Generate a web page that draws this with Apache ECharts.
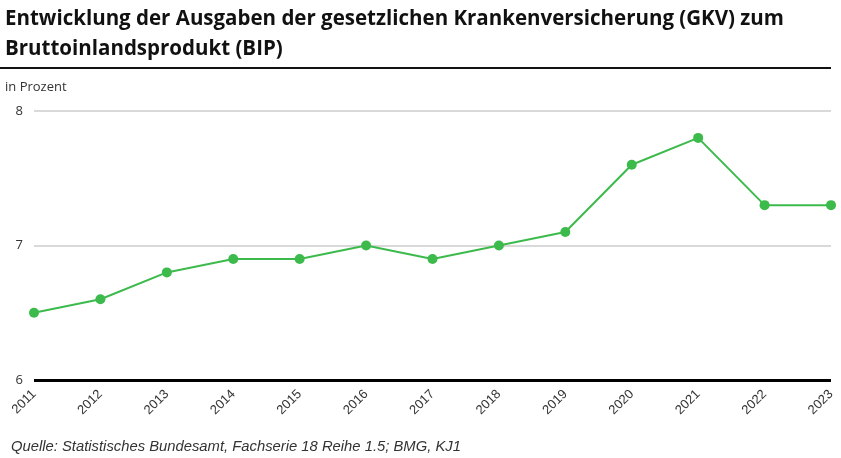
<!DOCTYPE html>
<html><head><meta charset="utf-8">
<script src="https://cdn.jsdelivr.net/npm/echarts@6/dist/echarts.min.js"></script>
<style>html,body{margin:0;padding:0;background:#fff}#c{width:841px;height:458px}</style>
</head><body><div id="c"></div>
<script>
const years = ['2011','2012','2013','2014','2015','2016','2017','2018','2019','2020','2021','2022','2023'];
const values = [6.5, 6.6, 6.8, 6.9, 6.9, 7.0, 6.9, 7.0, 7.1, 7.6, 7.8, 7.3, 7.3];
const titleText = 'Entwicklung der Ausgaben der gesetzlichen Krankenversicherung (GKV) zum\nBruttoinlandsprodukt (BIP)';
const unitText = 'in Prozent';
const sourceText = 'Quelle: Statistisches Bundesamt, Fachserie 18 Reihe 1.5; BMG, KJ1';

const chart = echarts.init(document.getElementById('c'));
chart.setOption({
  animation: false,
  title: [
    {text: titleText, left: 0, top: -1, textStyle: {fontFamily: 'Open Sans', fontWeight: 'bold', fontSize: 20.5, lineHeight: 30, color: '#111'}},
    {text: unitText, left: 0, top: 76, textStyle: {fontFamily: 'Open Sans', fontWeight: 'normal', fontSize: 13, color: '#333'}},
    {text: sourceText, left: 6, top: 434, textStyle: {fontFamily: 'Liberation Sans', fontStyle: 'italic', fontWeight: 'normal', fontSize: 14.8, color: '#333'}}
  ],
  graphic: [{type: 'line', shape: {x1: 0, y1: 68, x2: 831, y2: 68}, style: {stroke: '#111', lineWidth: 2}}],
  grid: {left: 34, right: 10, top: 111, bottom: 78},
  xAxis: {
    type: 'category', data: years, boundaryGap: false,
    axisLine: {show: false}, axisTick: {show: false},
    axisLabel: {rotate: 45, fontSize: 13, color: '#333', fontFamily: 'Liberation Sans', margin: 12}
  },
  yAxis: {
    type: 'value', min: 6, max: 8, interval: 1,
    axisLine: {show: false}, axisTick: {show: false},
    axisLabel: {fontSize: 13, color: '#333', fontFamily: 'Open Sans', margin: 11},
    splitLine: {lineStyle: {color: '#d9d9d9', width: 2}}
  },
  series: [{
    type: 'line', data: values, symbol: 'circle', symbolSize: 10,
    lineStyle: {color: '#3cba4c', width: 2}, itemStyle: {color: '#3cba4c'},
    markLine: {silent: true, symbol: 'none', label: {show: false}, lineStyle: {color: '#000', width: 3, type: 'solid'}, data: [{yAxis: 6}]}
  }]
});
</script></body></html>
